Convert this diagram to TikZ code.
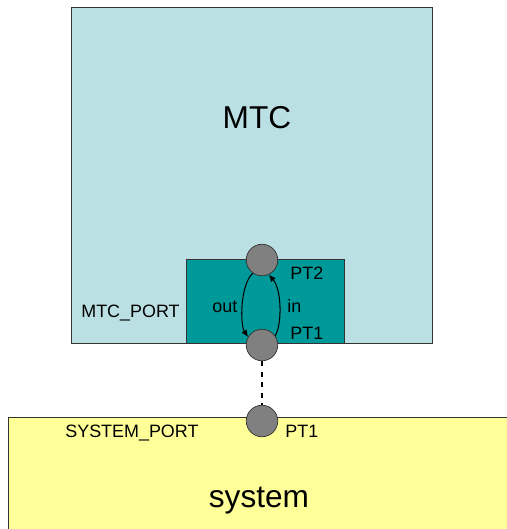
\documentclass[tikz,border=0pt]{standalone}
\usepackage{fontspec}
\setmainfont{Liberation Sans}
\usetikzlibrary{positioning,arrows.meta}
\definecolor{mtcblue}{RGB}{186,224,227}
\definecolor{portteal}{RGB}{0,153,153}
\definecolor{sysyellow}{RGB}{255,255,153}
\definecolor{pingray}{RGB}{128,128,128}

\begin{document}
\begin{tikzpicture}[x=0.02cm, y=-0.02cm,
  blk/.style={rectangle, draw=black!80, line width=0.6pt, fill=#1, inner sep=0pt, anchor=north west},
  pin/.style={circle, draw=black!80, fill=pingray, minimum size=0.63cm, inner sep=0pt, line width=0.4pt},
  lbl/.style={font=\fontsize{10.2}{12}\selectfont, inner sep=0pt, anchor=base west},
  big/.style={font=\fontsize{18}{20}\selectfont, inner sep=0pt, anchor=base},
  ar/.style={-{Latex[length=4pt,width=3.5pt]}, line width=0.6pt, black},
]
\useasboundingbox (0,0) rectangle (507,529);

% blocks
\node[blk=mtcblue, minimum width=7.22cm, minimum height=6.72cm] (mtc) at (71,7) {};
\node[blk=sysyellow, minimum width=10.2cm, minimum height=2.4cm] (sys) at (8,417) {};
\node[blk=portteal, minimum width=3.16cm, minimum height=1.68cm] (port) at (186,259) {};

\node[big] (mtcname) at (257,128) {MTC};
\node[big] (sysname) at (259,507) {system};

% ports
\node[pin] (pt2) at (262,260) {};
\node[pin] (pt1) at (262,345) {};
\node[pin] (spt1) at (262,421) {};

\draw[ar] (pt2.235) .. controls (240,285) and (240,325) .. (pt1.150);
\draw[ar] (pt1.35) .. controls (282,325) and (282,290) .. (pt2.295);
\draw[dashed, line width=0.6pt] (pt1.south) -- (spt1.north);

% labels
\node[lbl] (mtcport) at (81,317) {MTC\_PORT};
\node[lbl] (outlbl) at (212,312) {out};
\node[lbl] (inlbl) at (287,312) {in};
\node[lbl] (pt2lbl) at (290,279) {PT2};
\node[lbl] (pt1lbl) at (290,339) {PT1};
\node[lbl] (sysport) at (65,437) {SYSTEM\_PORT};
\node[lbl] (spt1lbl) at (285,437) {PT1};
\end{tikzpicture}
\end{document}
